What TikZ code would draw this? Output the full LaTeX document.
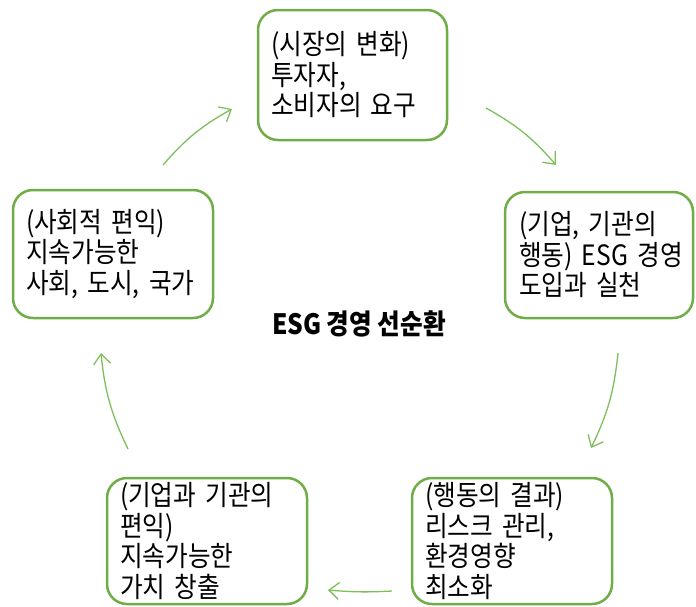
\documentclass[tikz,border=0pt]{standalone}
\usepackage{fontspec}
\setmainfont{Noto Sans CJK KR}[FakeStretch=0.88]
\usetikzlibrary{arrows.meta,positioning}
\definecolor{boxgreen}{HTML}{70AD47}
\definecolor{arrgreen}{HTML}{7DBF5C}
\tikzset{
  cyclebox/.style={draw=boxgreen, line width=2.5pt, rounded corners=20pt, fill=white,
    align=left, inner xsep=13pt, inner ysep=0pt, font=\fontsize{28}{30.5}\selectfont, anchor=center},
  cyclearrow/.style={draw=arrgreen, line width=1.3pt, -{Straight Barb[length=10pt,width=17pt,line width=1.3pt]}}
}
\begin{document}
\begin{tikzpicture}[x=1pt,y=1pt]
\useasboundingbox (0,0) rectangle (696,-606);
\node[cyclebox, minimum width=189pt, minimum height=130pt, text width=163pt] (top) at (352.5,-75) {(시장의 변화)\\투자자,\\소비자의 요구};
\node[cyclebox, minimum width=188pt, minimum height=126pt, text width=160pt, inner xsep=14pt] (right) at (599,-255) {(기업, 기관의\\\mbox{행동) ESG 경영}\\도입과 실천};
\node[cyclebox, minimum width=200pt, minimum height=126pt, text width=174pt] (br) at (512,-541) {(행동의 결과)\\리스크 관리,\\환경영향\\최소화};
\node[cyclebox, minimum width=200pt, minimum height=126pt, text width=174pt] (bl) at (207,-541) {(기업과 기관의\\편익)\\지속가능한\\가치 창출};
\node[cyclebox, minimum width=200pt, minimum height=128pt, text width=174pt] (left) at (113,-254) {(사회적 편익)\\지속가능한\\사회, 도시, 국가};
\node[font=\fontsize{28}{30}\selectfont\bfseries] (title) at (359,-324) {ESG 경영 선순환};
\coordinate (a1s) at (163,-165); \coordinate (a1e) at (232,-109);
\coordinate (a2s) at (486,-108); \coordinate (a2e) at (556,-165);
\coordinate (a3s) at (618,-353); \coordinate (a3e) at (591,-448);
\coordinate (a4s) at (392,-591); \coordinate (a4e) at (328,-590);
\coordinate (a5s) at (128,-449); \coordinate (a5e) at (101,-353);
\draw[cyclearrow] (a1s) to[bend left=10] (a1e);
\draw[cyclearrow] (a2s) to[bend left=10] (a2e);
\draw[cyclearrow] (a3s) to[bend left=10] (a3e);
\draw[cyclearrow] (a4s) to[bend left=4] (a4e);
\draw[cyclearrow] (a5s) to[bend left=10] (a5e);
\end{tikzpicture}
\end{document}
